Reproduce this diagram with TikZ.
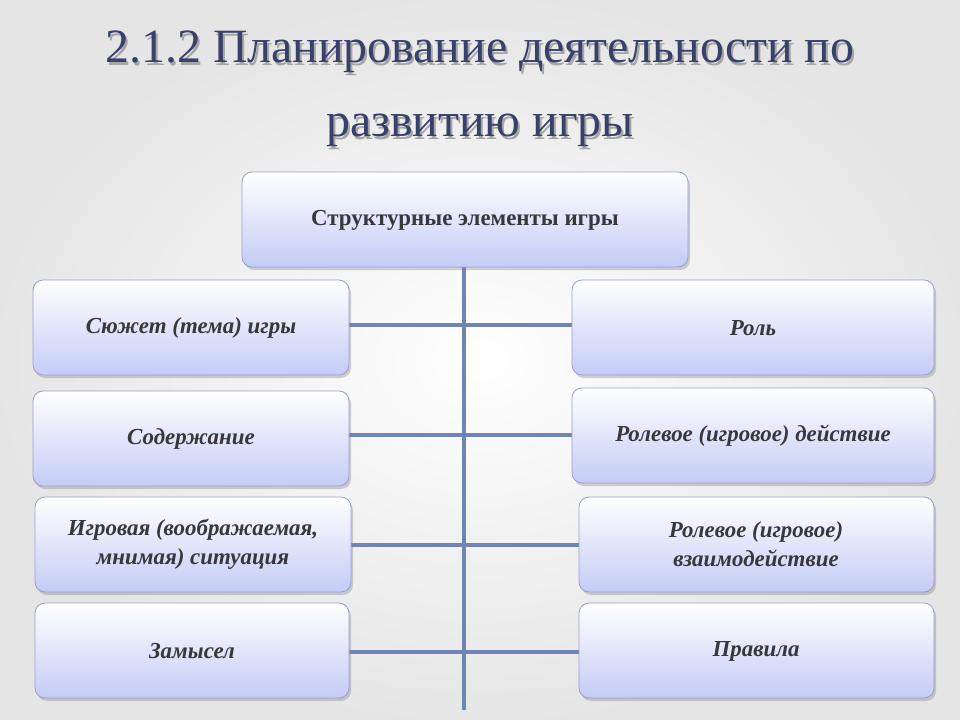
\documentclass[tikz,border=0pt]{standalone}
\usepackage{fontspec}
\setmainfont{Liberation Serif}
\usetikzlibrary{shadows}
\definecolor{titlec}{RGB}{55,65,105}
\definecolor{linec}{RGB}{112,132,182}
\definecolor{boxbot}{RGB}{196,204,246}
\definecolor{boxedge}{RGB}{150,160,210}
\definecolor{txtc}{RGB}{55,55,60}
\tikzset{
  box/.style={draw=boxedge, line width=0.8pt, rounded corners=10bp, top color=white, bottom color=boxbot,
    drop shadow={shadow xshift=2bp, shadow yshift=-3bp, opacity=0.35}},
  lbl/.style={text=txtc, font=\fontsize{23}{29}\selectfont\bfseries\itshape, align=center},
  ttl/.style={font=\fontsize{48}{54}\selectfont}
}
\begin{document}
\begin{tikzpicture}[x=1bp,y=-1bp]
\shade[inner color=white, outer color=black!10] (0,0) rectangle (960,720);
\useasboundingbox (0,0) rectangle (960,720);
\node[ttl, text=black!35] at (482,55) {2.1.2 Планирование деятельности по};
\node[ttl, text=black!35] at (482,133) {развитию игры};
\node[ttl, text=titlec] (t1) at (480,52) {2.1.2 Планирование деятельности по};
\node[ttl, text=titlec] (t2) at (480,130) {развитию игры};
\tikzset{conn/.style={draw=linec, line width=4.5bp}}
\coordinate (vb) at (464,710);
\coordinate (vt) at (464,267);
\draw[conn] (vt) -- (vb);
\coordinate (l1) at (349,325); \coordinate (r1) at (572,325);
\coordinate (l2) at (349,435); \coordinate (r2) at (572,435);
\coordinate (l3) at (351,545); \coordinate (r3) at (579,545);
\coordinate (l4) at (349,652); \coordinate (r4) at (579,652);
\draw[conn] (l1) -- (r1);
\draw[conn] (l2) -- (r2);
\draw[conn] (l3) -- (r3);
\draw[conn] (l4) -- (r4);
\path[box] (242,172) rectangle (688,267);
\node[text=txtc, font=\fontsize{23}{29}\selectfont\bfseries] (top) at (465,220) {Структурные элементы игры};
\path[box] (33,280) rectangle (349,375);
\node[lbl] (a1) at (191,328) {Сюжет (тема) игры};
\path[box] (33,391) rectangle (349,486);
\node[lbl] (a2) at (191,439) {Содержание};
\path[box] (35,497) rectangle (351,592);
\node[lbl] (a3) at (193,544) {Игровая (воображаемая,\\мнимая) ситуация};
\path[box] (35,603) rectangle (349,698);
\node[lbl] (a4) at (192,651) {Замысел};
\path[box] (572,280) rectangle (934,375);
\node[lbl] (b1) at (753,328) {Роль};
\path[box] (572,388) rectangle (934,483);
\node[lbl] (b2) at (753,436) {Ролевое (игровое) действие};
\path[box] (579,497) rectangle (934,592);
\node[lbl] (b3) at (756,544) {Ролевое (игровое)\\взаимодействие};
\path[box] (579,603) rectangle (934,698);
\node[lbl] (b4) at (756,651) {Правила};
\end{tikzpicture}
\end{document}
